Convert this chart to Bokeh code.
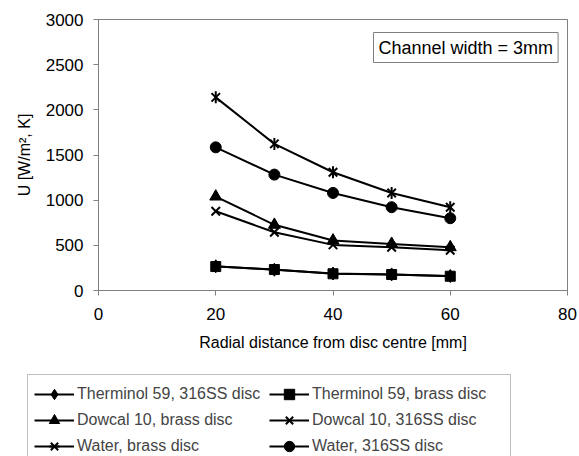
from bokeh.plotting import figure
from bokeh.models import Legend, LegendItem, Label, FixedTicker, Range1d
from bokeh.layouts import column
from bokeh.embed import file_html
from bokeh.resources import INLINE

x = [20, 30, 40, 50, 60]
therminol_316ss = [268, 230, 188, 178, 160]
therminol_brass = [265, 232, 185, 177, 158]
dowcal_brass = [1040, 727, 553, 516, 479]
dowcal_316ss = [877, 645, 505, 478, 445]
water_brass = [2138, 1623, 1309, 1080, 922]
water_316ss = [1585, 1283, 1080, 922, 800]

labels = ["Therminol 59, 316SS disc", "Therminol 59, brass disc",
          "Dowcal 10, brass disc", "Dowcal 10, 316SS disc",
          "Water, brass disc", "Water, 316SS disc"]

x_ticks = [0, 20, 40, 60, 80]
y_ticks = [0, 500, 1000, 1500, 2000, 2500, 3000]

FONT = "Liberation Sans"

p = figure(width=579, height=360, output_backend="svg", toolbar_location=None,
           x_range=Range1d(0, 80), y_range=Range1d(0, 3000),
           min_border_left=98, min_border_right=12, min_border_top=19, min_border_bottom=70)
p.frame_align = False
p.grid.visible = False
p.outline_line_color = "#808080"
p.outline_line_width = 1

for ax in (p.xaxis[0], p.yaxis[0]):
    ax.axis_line_color = "#808080"
    ax.major_tick_line_color = "#808080"
    ax.major_tick_out = 5
    ax.major_tick_in = 0
    ax.minor_tick_line_color = None
    ax.major_label_text_font = FONT
    ax.major_label_text_font_size = "17px"
    ax.major_label_text_color = "black"
    ax.axis_label_text_font = FONT
    ax.axis_label_text_font_size = "16px"
    ax.axis_label_text_font_style = "normal"
    ax.axis_label_text_color = "black"

p.xaxis.ticker = FixedTicker(ticks=x_ticks)
p.yaxis.ticker = FixedTicker(ticks=y_ticks)
p.xaxis.major_label_standoff = 12
p.yaxis.major_label_standoff = 10
p.xaxis.axis_label = "Radial distance from disc centre [mm]"
p.yaxis.axis_label = "U [W/m\u00b2, K]"
p.xaxis.axis_label_standoff = 11
p.yaxis.axis_label_standoff = 10

marker_specs = [
    [("diamond", dict(size=13, fill_color="black", line_color="black"))],
    [("square", dict(size=10, fill_color="black", line_color="black"))],
    [("triangle", dict(size=12, fill_color="black", line_color="black"))],
    [("x", dict(size=12, line_color="black", line_width=2))],
    [("x", dict(size=12, line_color="black", line_width=2)),
     ("dash", dict(size=12, line_color="black", line_width=2, angle=1.5708))],
    [("circle", dict(size=11, fill_color="black", line_color="black"))],
]
all_series = [therminol_316ss, therminol_brass, dowcal_brass,
              dowcal_316ss, water_brass, water_316ss]

def draw(fig, xs, ys, markers):
    rs = [fig.line(xs, ys, line_color="black", line_width=2)]
    for m, kw in markers:
        rs.append(fig.scatter(xs, ys, marker=m, **kw))
    return rs

for ys, mk in zip(all_series, marker_specs):
    draw(p, x, ys, mk)

lbl = Label(x=275, y=228, x_units="screen", y_units="screen",
            text="Channel width = 3mm", text_font=FONT, text_font_size="18px",
            text_color="black", border_line_color="#808080", border_line_width=1,
            background_fill_color="white", padding=5)
p.add_layout(lbl)

# legend panel below the chart
q = figure(width=579, height=96, output_backend="svg", toolbar_location=None,
           x_range=Range1d(0, 1), y_range=Range1d(0, 1),
           min_border_left=0, min_border_right=0, min_border_top=0, min_border_bottom=0)
q.frame_align = False
q.axis.visible = False
q.grid.visible = False
q.outline_line_color = None

items = []
for lab, mk in zip(labels, marker_specs):
    rs = draw(q, [10, 11], [10, 11], mk)
    items.append(LegendItem(label=lab, renderers=rs))

# column-major fill: reorder so rows read left-to-right as in the original
order = [0, 2, 4, 1, 3, 5]
legend = Legend(items=[items[i] for i in order], ncols=2, location=(27, -10),
                label_text_font=FONT, label_text_font_size="16px",
                label_standoff=3, label_width=192,
                glyph_width=40, glyph_height=26, label_height=26,
                spacing=0, padding=6, margin=0,
                border_line_color="#808080", border_line_width=1,
                background_fill_color="white", background_fill_alpha=1)
q.add_layout(legend, "center")

open("out.html", "w").write(file_html(column(p, q, spacing=0), INLINE))
